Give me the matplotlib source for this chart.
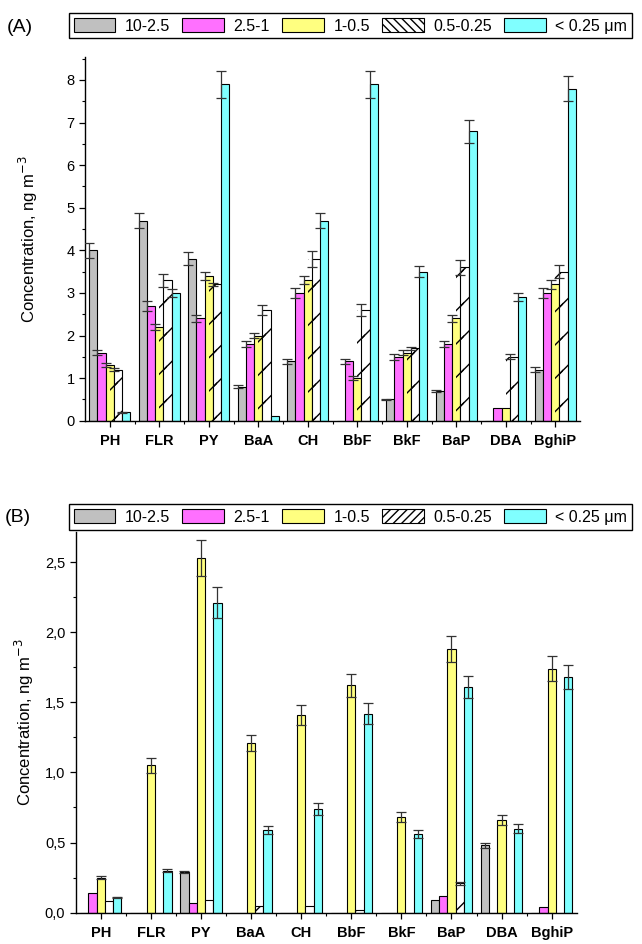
import matplotlib
matplotlib.use('Agg')
import matplotlib.pyplot as plt
import numpy as np
from matplotlib.patches import Patch
from matplotlib.ticker import MultipleLocator, FixedLocator, FuncFormatter

plt.rcParams['font.family'] = ['Liberation Sans', 'DejaVu Sans']

compounds = ['PH', 'FLR', 'PY', 'BaA', 'CH', 'BbF', 'BkF', 'BaP', 'DBA', 'BghiP']
fractions = ['10-2.5', '2.5-1', '1-0.5', '0.5-0.25', '< 0.25 μm']

# panel (A)
a_10_25 = [4.0, 4.7, 3.8, 0.8, 1.4, 0.0, 0.5, 0.7, 0.0, 1.2]
a_10_25_err = [0.17, 0.18, 0.15, 0.04, 0.06, 0.0, 0.02, 0.03, 0.0, 0.05]
a_25_1 = [1.6, 2.7, 2.4, 1.8, 3.0, 1.4, 1.5, 1.8, 0.3, 3.0]
a_25_1_err = [0.05, 0.12, 0.09, 0.07, 0.12, 0.06, 0.07, 0.07, 0.0, 0.12]
a_1_05 = [1.3, 2.2, 3.4, 2.0, 3.3, 1.0, 1.6, 2.4, 0.3, 3.2]
a_1_05_err = [0.05, 0.07, 0.09, 0.06, 0.1, 0.04, 0.05, 0.08, 0.0, 0.1]
a_05_025 = [1.2, 3.3, 3.2, 2.6, 3.8, 2.6, 1.7, 3.6, 1.5, 3.5]
a_05_025_err = [0.03, 0.15, 0.04, 0.12, 0.18, 0.13, 0.03, 0.18, 0.06, 0.15]
a_025 = [0.2, 3.0, 7.9, 0.1, 4.7, 7.9, 3.5, 6.8, 2.9, 7.8]
a_025_err = [0.01, 0.1, 0.32, 0.0, 0.18, 0.32, 0.13, 0.27, 0.1, 0.3]

# panel (B)
b_10_25 = [0.0, 0.0, 0.29, 0.0, 0.0, 0.0, 0.0, 0.09, 0.48, 0.0]
b_10_25_err = [0.0, 0.0, 0.01, 0.0, 0.0, 0.0, 0.0, 0.0, 0.02, 0.0]
b_25_1 = [0.14, 0.0, 0.07, 0.0, 0.0, 0.0, 0.0, 0.12, 0.0, 0.04]
b_25_1_err = [0.0, 0.0, 0.0, 0.0, 0.0, 0.0, 0.0, 0.0, 0.0, 0.0]
b_1_05 = [0.25, 1.05, 2.53, 1.21, 1.41, 1.62, 0.68, 1.88, 0.66, 1.74]
b_1_05_err = [0.01, 0.055, 0.13, 0.06, 0.07, 0.085, 0.035, 0.095, 0.035, 0.09]
b_05_025 = [0.08, 0.0, 0.09, 0.05, 0.05, 0.02, 0.0, 0.21, 0.0, 0.0]
b_05_025_err = [0.0, 0.0, 0.0, 0.0, 0.0, 0.0, 0.0, 0.01, 0.0, 0.0]
b_025 = [0.11, 0.30, 2.21, 0.59, 0.74, 1.42, 0.56, 1.61, 0.60, 1.68]
b_025_err = [0.005, 0.01, 0.11, 0.03, 0.04, 0.075, 0.03, 0.08, 0.035, 0.085]

colors = ['#c0c0c0', '#ff70ff', '#ffff80', 'white', '#80ffff']
W, H = 642, 944


def panel(ax, series, errors, ylim, minor, comma, err_shift, hatch_yellow):
    x = np.arange(1, len(compounds) + 1)
    w = 0.165
    for i, (vals, errs) in enumerate(zip(series, errors)):
        pos = x + (i - 2) * w
        ax.bar(pos, vals, width=w, color=colors[i], edgecolor='black', linewidth=0.8,
               hatch='/' if i == 3 else None, zorder=2)
        vals = np.array(vals)
        errs = np.array(errs)
        m = errs > 0
        ax.errorbar(pos[m] + err_shift * w, vals[m], yerr=errs[m], fmt='none',
                    ecolor='#333333', elinewidth=0.9, capsize=3.5, capthick=0.9, zorder=3)
    if hatch_yellow:
        # hatch strokes straddling yellow and hatched bars, as in the original
        ax.bar(x + 0.5 * w, series[3], width=w, fill=False, linewidth=0, hatch='/', zorder=2.5)
    ax.set_xlim(0.5, len(compounds) + 0.5)
    ax.set_ylim(*ylim)
    ax.spines['top'].set_visible(False)
    ax.spines['right'].set_visible(False)
    ax.spines['left'].set_linewidth(1.0)
    ax.spines['bottom'].set_linewidth(1.0)
    ax.xaxis.set_major_locator(FixedLocator(x))
    ax.xaxis.set_minor_locator(FixedLocator(x[:-1] + 0.5))
    ax.set_xticklabels(compounds, fontsize=13, fontweight='bold')
    ax.yaxis.set_minor_locator(MultipleLocator(minor))
    ax.tick_params(which='major', direction='out', length=4.5, width=0.9, labelsize=10.5, pad=3)
    ax.tick_params(which='minor', direction='out', length=2.5, width=0.8)
    ax.tick_params(axis='x', which='major', pad=5)
    if comma:
        ax.yaxis.set_major_formatter(FuncFormatter(lambda v, p: ('%.1f' % v).replace('.', ',')))
    ax.set_ylabel('Concentration, ng m$^{-3}$', fontsize=12)


def legend(fig, top, bottom, hatch):
    handles = [Patch(facecolor=colors[i], edgecolor='black', linewidth=0.8,
                     hatch=hatch if i == 3 else None) for i in range(5)]
    fig.legend(handles, fractions, loc='center', ncol=5, mode='expand',
               bbox_to_anchor=(61 / W, 1 - bottom / H, 579 / W, (bottom - top) / H),
               fontsize=11.5, handlelength=2.6, handleheight=1.0, handletextpad=0.6,
               columnspacing=0.7, borderpad=0.3, fancybox=False, framealpha=1,
               edgecolor='black')


fig = plt.figure(figsize=(W / 100, H / 100), dpi=100)

axA = fig.add_axes([85 / W, 1 - 420.7 / H, 495 / W, (420.7 - 57) / H])
panel(axA, [a_10_25, a_25_1, a_1_05, a_05_025, a_025],
      [a_10_25_err, a_25_1_err, a_1_05_err, a_05_025_err, a_025_err],
      (0, 8.54), 0.5, False, -0.5, True)
axA.yaxis.set_label_coords(-0.09, 0.5)
legend(fig, 11.7, 40, '\\\\\\\\')
fig.text(7 / W, 1 - 27 / H, '(A)', fontsize=14, va='center', ha='left')

axB = fig.add_axes([75.7 / W, 1 - 912.7 / H, 501 / W, (912.7 - 531.7) / H])
panel(axB, [b_10_25, b_25_1, b_1_05, b_05_025, b_025],
      [b_10_25_err, b_25_1_err, b_1_05_err, b_05_025_err, b_025_err],
      (0, 2.716), 0.25, True, 0.0, False)
axB.yaxis.set_label_coords(-0.08, 0.5)
legend(fig, 502, 532, '////')
fig.text(5 / W, 1 - 517 / H, '(B)', fontsize=14, va='center', ha='left')

fig.savefig('out.png', dpi=100)
